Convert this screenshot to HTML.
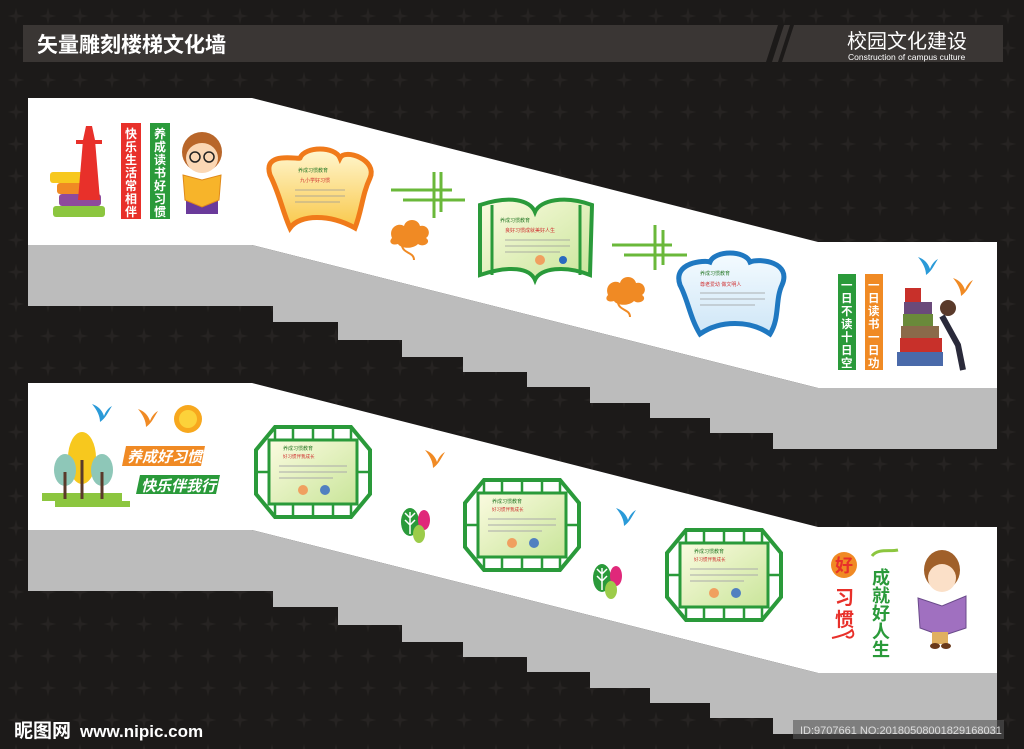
<!DOCTYPE html>
<html><head><meta charset="utf-8"><style>
html,body{margin:0;padding:0;background:#1c1a19;}
svg{display:block;font-family:"Liberation Sans","Noto Sans CJK SC",sans-serif;}
</style></head><body>
<svg width="1024" height="749" viewBox="0 0 1024 749" xmlns="http://www.w3.org/2000/svg">
<defs>
<pattern id="bg" width="32" height="32" patternUnits="userSpaceOnUse">
<rect width="32" height="32" fill="#1c1a19"/>
<path d="M16 8 L18 16 L16 24 L14 16Z M8 16 L16 14 L24 16 L16 18Z" fill="#262322"/>
</pattern>
<linearGradient id="gy" x1="0" y1="0" x2="0" y2="1"><stop offset="0" stop-color="#fff7d0"/><stop offset="1" stop-color="#f9c84a"/></linearGradient>
<linearGradient id="gg" x1="0" y1="0" x2="1" y2="1"><stop offset="0" stop-color="#fbfbe0"/><stop offset="1" stop-color="#c9e59a"/></linearGradient>
<linearGradient id="gb" x1="0" y1="0" x2="0" y2="1"><stop offset="0" stop-color="#f4fbff"/><stop offset="1" stop-color="#cfe6f7"/></linearGradient>
<g id="stairs">
<polygon points="28,98 252,98 818,242 997,242 997,388 818,388 252,245 28,245" fill="#ffffff"/>
<polygon points="28,245 252,245 818,388 997,388 997,449 773,449 773,433 710,433 710,418 650,418 650,403 590,403 590,387 527,387 527,372 463,372 463,357 402,357 402,340 338,340 338,322 273,322 273,306 28,306" fill="#bcbcbc"/>
</g>
<g id="oct">
<polygon points="0,-45 38,-45 57,-22 57,22 38,45 -38,45 -57,22 -57,-22 -38,-45" fill="#fff" stroke="#2a9a3a" stroke-width="4"/>
<rect x="-44" y="-32" width="88" height="64" fill="url(#gg)" stroke="#2a9a3a" stroke-width="3"/>
<path d="M-38,-45 L-38,-32 M38,-45 L38,-32 M-38,45 L-38,32 M38,45 L38,32 M-20,-45 V-32 M0,-45 V-32 M20,-45 V-32 M-20,45 V32 M0,45 V32 M20,45 V32 M-57,0 H-44 M57,0 H44" stroke="#2a9a3a" stroke-width="2.5"/>
<text x="-30" y="-22" font-size="5" fill="#2a7a2a">养成习惯教育</text>
<text x="-30" y="-14" font-size="4.5" fill="#d03030">好习惯伴我成长</text>
<path d="M-34,-6 H34 M-34,0 H34 M-34,6 H20" stroke="#aaa" stroke-width="1"/>
<circle cx="-10" cy="18" r="5" fill="#f0a060"/><circle cx="12" cy="18" r="5" fill="#5080c0"/>
</g>
<g id="bird"><path d="M0,0 C6,2 10,6 12,12 C14,6 18,3 20,2 C16,8 14,14 8,18 C8,12 5,6 0,0Z"/></g>
<g id="leaf"><ellipse cx="0" cy="0" rx="9" ry="14" fill="#2a9a3a"/><path d="M0,-10 V12 M0,-4 L-5,-9 M0,-4 L5,-9 M0,3 L-5,-2 M0,3 L5,-2" stroke="#fff" stroke-width="1.5" fill="none"/><ellipse cx="14" cy="-2" rx="6" ry="10" fill="#e0287a"/><ellipse cx="9" cy="12" rx="6" ry="9" fill="#9ccc4a"/></g>
<g id="cloud"><path d="M0,10 C-4,0 6,-6 12,-2 C14,-10 26,-10 28,-2 C36,-4 40,6 34,10 C40,14 32,20 26,16 C20,22 8,20 6,16 C0,18 -4,14 0,10Z" fill="#f08a24"/><path d="M10,18 C12,26 22,24 22,32" stroke="#f08a24" stroke-width="2" fill="none"/></g>
</defs>
<rect width="1024" height="749" fill="url(#bg)"/>

<rect x="23" y="25" width="980" height="37" fill="#3a3634"/>
<polygon points="778,25 784,25 772,62 766,62" fill="#1c1a19"/>
<polygon points="790,25 794,25 782,62 778,62" fill="#1c1a19"/>
<text x="37" y="52" font-size="21" font-weight="bold" fill="#fff">矢量雕刻楼梯文化墙</text>
<text x="847" y="48" font-size="20" fill="#fff">校园文化建设</text>
<text x="848" y="60" font-size="8.5" fill="#fff">Construction of campus culture</text>

<use href="#stairs"/>
<use href="#stairs" transform="translate(0,285)"/>

<rect x="53" y="206" width="52" height="11" rx="3" fill="#8cc63f"/>
<rect x="59" y="194" width="42" height="12" rx="3" fill="#8e4a9c"/>
<rect x="57" y="183" width="30" height="11" rx="3" fill="#f08a24"/>
<rect x="50" y="172" width="33" height="11" rx="3" fill="#f7c81e"/>
<polygon points="86,126 92,126 95,140 100,200 78,200 83,140" fill="#e8302a"/>
<rect x="76" y="140" width="26" height="4" fill="#e8302a"/>
<rect x="121" y="123" width="20" height="96" fill="#e8302a"/>
<text font-size="12" font-weight="bold" fill="#fff"><tspan x="125" y="138">快</tspan><tspan x="125" y="151">乐</tspan><tspan x="125" y="164">生</tspan><tspan x="125" y="177">活</tspan><tspan x="125" y="190">常</tspan><tspan x="125" y="203">相</tspan><tspan x="125" y="216">伴</tspan></text>
<rect x="150" y="123" width="20" height="96" fill="#2a9a3a"/>
<text font-size="12" font-weight="bold" fill="#fff"><tspan x="154" y="138">养</tspan><tspan x="154" y="151">成</tspan><tspan x="154" y="164">读</tspan><tspan x="154" y="177">书</tspan><tspan x="154" y="190">好</tspan><tspan x="154" y="203">习</tspan><tspan x="154" y="216">惯</tspan></text>
<ellipse cx="202" cy="152" rx="20" ry="20" fill="#b8662a"/>
<ellipse cx="202" cy="158" rx="16" ry="15" fill="#fbd7b4"/>
<circle cx="195" cy="157" r="5" fill="none" stroke="#222" stroke-width="1.5"/><circle cx="209" cy="157" r="5" fill="none" stroke="#222" stroke-width="1.5"/>
<rect x="186" y="196" width="32" height="18" fill="#6a3a9a"/>
<polygon points="183,175 202,180 221,175 219,200 202,207 185,200" fill="#f7b42a" stroke="#e08a1a"/>

<path d="M270,175 C262,150 300,160 300,158 C305,146 335,146 340,158 C345,148 378,160 370,178 C362,195 362,210 355,228 C330,214 300,214 290,228 C282,210 280,195 270,175Z" fill="url(#gy)" stroke="#f07a1a" stroke-width="5"/>
<text x="298" y="172" font-size="5" fill="#2a7a2a">养成习惯教育</text>
<text x="300" y="182" font-size="5" fill="#d03030">九小学好习惯</text>
<path d="M295,190 H345 M295,196 H345 M295,202 H340" stroke="#999" stroke-width="0.8"/>
<path d="M391,190 H452 M403,200 H465 M434,172 V218 M441,172 V212" stroke="#6ab83a" stroke-width="3"/>
<use href="#cloud" transform="translate(392,228)"/>

<path d="M480,205 C510,195 530,200 535,212 C540,200 565,195 592,205 L590,275 C565,265 540,268 535,280 C530,268 510,265 480,275Z" fill="url(#gg)" stroke="#2a9a3a" stroke-width="4"/>
<path d="M492,205 V275 M580,205 V275" stroke="#2a9a3a" stroke-width="3"/>
<text x="500" y="222" font-size="5" fill="#2a7a2a">养成习惯教育</text>
<text x="505" y="232" font-size="5" fill="#d03030">良好习惯成就美好人生</text>
<path d="M505,240 H570 M505,246 H570 M505,252 H560" stroke="#999" stroke-width="0.8"/>
<circle cx="540" cy="260" r="5" fill="#f0a060"/><circle cx="563" cy="260" r="4" fill="#2a6ac0"/>

<path d="M612,245 H672 M624,255 H687 M655,225 V270 M663,230 V265" stroke="#6ab83a" stroke-width="3"/>
<use href="#cloud" transform="translate(608,285)"/>

<path d="M680,285 C672,262 705,260 710,262 C715,250 745,250 750,262 C760,258 792,262 782,285 C775,300 780,318 770,334 C750,320 720,320 700,334 C690,318 688,300 680,285Z" fill="url(#gb)" stroke="#1f78c1" stroke-width="5"/>
<text x="700" y="275" font-size="5" fill="#2a7a2a">养成习惯教育</text>
<text x="700" y="286" font-size="5" fill="#d03030">尊老爱幼 做文明人</text>
<path d="M700,293 H765 M700,299 H765 M700,305 H755" stroke="#999" stroke-width="0.8"/>

<rect x="838" y="274" width="18" height="96" fill="#2a9a3a"/>
<text font-size="11.5" font-weight="bold" fill="#fff"><tspan x="841" y="289">一</tspan><tspan x="841" y="302">日</tspan><tspan x="841" y="315">不</tspan><tspan x="841" y="328">读</tspan><tspan x="841" y="341">十</tspan><tspan x="841" y="354">日</tspan><tspan x="841" y="367">空</tspan></text>
<rect x="865" y="274" width="18" height="96" fill="#f08a24"/>
<text font-size="11.5" font-weight="bold" fill="#fff"><tspan x="868" y="289">一</tspan><tspan x="868" y="302">日</tspan><tspan x="868" y="315">读</tspan><tspan x="868" y="328">书</tspan><tspan x="868" y="341">一</tspan><tspan x="868" y="354">日</tspan><tspan x="868" y="367">功</tspan></text>
<rect x="897" y="352" width="46" height="14" fill="#4a6aaa"/>
<rect x="900" y="338" width="42" height="14" fill="#c8302a"/>
<rect x="901" y="326" width="38" height="12" fill="#8a6a4a"/>
<rect x="903" y="314" width="30" height="12" fill="#6a8a3a"/>
<rect x="904" y="302" width="28" height="12" fill="#6a4a7a"/>
<rect x="905" y="288" width="16" height="14" fill="#c8302a"/>
<circle cx="948" cy="308" r="8" fill="#5a3a2a"/>
<path d="M942,316 L958,345 L963,370" stroke="#2a2a3a" stroke-width="6" fill="none"/>
<use href="#bird" transform="translate(918,257)" fill="#2a9ad8"/>
<use href="#bird" transform="translate(953,278)" fill="#f08a24"/>

<use href="#bird" transform="translate(92,404)" fill="#2a9ad8"/>
<use href="#bird" transform="translate(138,409)" fill="#f08a24"/>
<circle cx="188" cy="419" r="14" fill="#f7a81e"/><circle cx="188" cy="419" r="9" fill="#fcd23a"/>
<rect x="42" y="493" width="80" height="8" fill="#8cc63f"/><rect x="55" y="501" width="75" height="6" fill="#8cc63f"/>
<ellipse cx="82" cy="458" rx="14" ry="26" fill="#f7c81e"/>
<ellipse cx="65" cy="470" rx="11" ry="16" fill="#8ec7b8"/>
<ellipse cx="102" cy="470" rx="11" ry="16" fill="#8ec7b8"/>
<path d="M82,460 V499 M65,472 V499 M102,472 V499" stroke="#5a3a2a" stroke-width="3"/>
<polygon points="126,446 205,446 201,466 122,466" fill="#f08a24"/>
<text x="127" y="462" font-size="15" font-weight="bold" font-style="italic" fill="#fff">养成好习惯</text>
<polygon points="140,475 220,475 216,494 136,494" fill="#2a9a3a"/>
<text x="141" y="491" font-size="15" font-weight="bold" font-style="italic" fill="#fff">快乐伴我行</text>

<use href="#oct" transform="translate(313,472)"/>
<use href="#oct" transform="translate(522,525)"/>
<use href="#oct" transform="translate(724,575)"/>
<use href="#bird" transform="translate(425,450)" fill="#f08a24"/>
<use href="#bird" transform="translate(616,508)" fill="#2a9ad8"/>
<use href="#leaf" transform="translate(410,522)"/>
<use href="#leaf" transform="translate(602,578)"/>

<circle cx="844" cy="565" r="13" fill="#f08a24"/>
<text x="835" y="572" font-size="18" font-weight="bold" fill="#e8302a">好</text>
<text font-size="19" font-weight="bold" fill="#e8302a"><tspan x="835" y="604">习</tspan><tspan x="835" y="626">惯</tspan></text>
<path d="M832,638 C840,636 848,634 852,630 C856,636 850,640 846,636" stroke="#e8302a" stroke-width="2" fill="none"/>
<path d="M872,556 C878,548 890,552 898,550" stroke="#8cc63f" stroke-width="3" fill="none"/>
<text font-size="18" font-weight="bold" fill="#2a9a3a"><tspan x="872" y="584">成</tspan><tspan x="872" y="602">就</tspan><tspan x="872" y="620">好</tspan><tspan x="872" y="638">人</tspan><tspan x="872" y="656">生</tspan></text>
<ellipse cx="942" cy="570" rx="18" ry="20" fill="#a0602a"/>
<ellipse cx="942" cy="578" rx="14" ry="14" fill="#fbe0c8"/>
<polygon points="918,598 942,606 966,596 966,628 942,636 920,628" fill="#a070c0" stroke="#6a4a8a"/>
<rect x="932" y="632" width="16" height="12" fill="#e0b060"/>
<ellipse cx="935" cy="646" rx="5" ry="3" fill="#6a3a1a"/><ellipse cx="946" cy="646" rx="5" ry="3" fill="#6a3a1a"/>

<rect x="793" y="720" width="211" height="19" fill="#555" opacity="0.6"/>
<text x="800" y="734" font-size="11" fill="#ddd">ID:9707661 NO:20180508001829168031</text>
<text x="14" y="737" font-size="19" font-weight="bold" fill="#fff">昵图网</text>
<text x="80" y="737" font-size="17" font-weight="bold" fill="#fff">www.nipic.com</text>
</svg>
</body></html>
